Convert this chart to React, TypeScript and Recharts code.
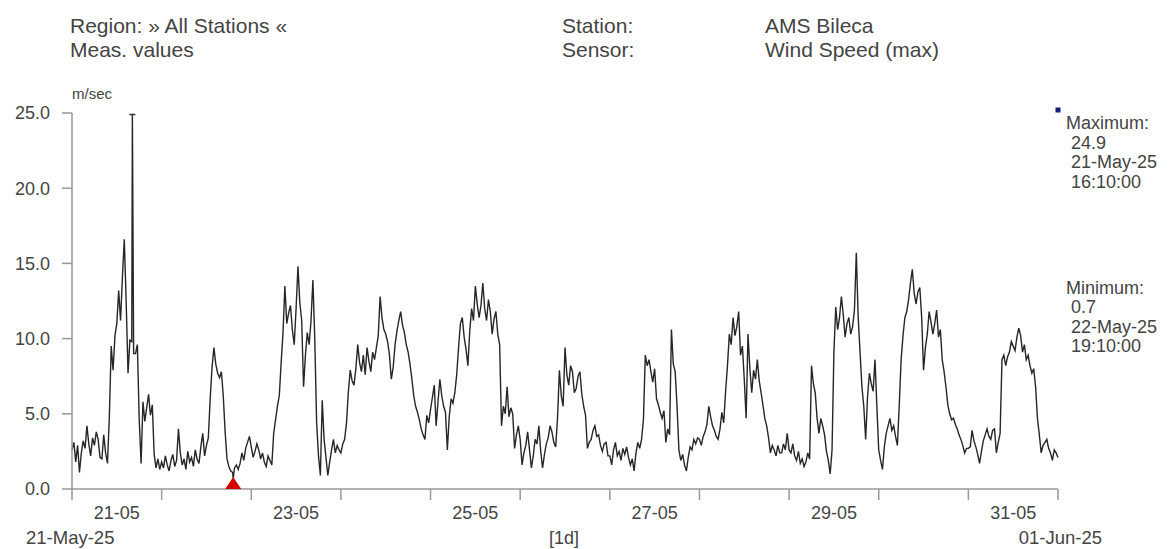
import React from 'react';
import { LineChart, Line, XAxis, YAxis, ReferenceDot } from 'recharts';

// Wind speed (max), 30-minute readings per day, m/sec
const day21 = [2.6,3.1, 1.8,2.9, 1.1,2.4, 3.2,2.7, 4.2,3.0, 2.2,3.4, 2.9,3.8, 3.3,2.1, 2.0,3.6, 2.4,1.7, 4.8,9.5, 7.9,10.2, 11.0,13.2, 11.2,14.1, 16.6,12.5, 7.7,9.9, 9.8,9.0, 9.0,9.6, 4.6,1.7, 5.8,4.5, 5.4,6.3, 4.9,5.6, 2.3,1.4, 2.0,1.3];
const day22 = [1.8,1.4, 2.2,1.6, 1.2,1.9, 2.3,1.5, 1.9,4.0, 2.4,1.6, 2.0,1.3, 2.5,1.8, 2.1,1.5, 2.6,2.0, 1.7,2.8, 3.7,2.2, 2.9,3.4, 6.0,8.1, 9.4,8.3, 7.7,7.4, 7.8,6.2, 3.8,2.0, 1.5,1.2, 1.1,1.4, 1.6,1.3, 1.7,2.4, 1.9,2.7, 3.1,3.5];
const day23 = [2.8,2.1, 2.5,3.0, 2.6,2.0, 2.4,1.8, 1.5,2.2, 1.9,1.6, 3.7,4.6, 5.5,6.2, 8.4,10.4, 13.5,11.0, 11.7,12.2, 10.6,9.6, 12.0,14.8, 12.4,11.2, 6.8,8.9, 10.4,9.6, 11.2,13.9, 10.0,4.4, 2.2,0.9, 5.9,3.3, 2.1,0.9, 1.8,2.6, 3.3,2.4, 2.9,2.6];
const day24 = [2.4,3.0, 3.3,4.4, 6.5,7.9, 7.2,6.9, 8.0,9.6, 8.4,7.8, 8.9,7.6, 9.4,8.5, 7.8,9.1, 8.6,9.4, 10.2,12.8, 11.4,10.6, 10.3,9.8, 8.9,7.3, 8.1,9.6, 10.5,11.2, 11.8,10.9, 10.4,9.6, 9.1,8.3, 7.3,6.2, 5.5,5.1, 4.6,4.0, 3.6,3.3, 4.9,4.4];
const day25 = [5.3,6.1, 6.9,4.2, 5.8,7.3, 6.2,5.5, 5.1,2.6, 4.8,6.0, 5.7,6.4, 7.6,9.4, 11.0,11.4, 10.1,9.3, 8.2,10.5, 12.0,11.2, 13.5,12.3, 11.4,12.2, 13.7,12.0, 11.2,12.6, 11.8,10.3, 11.3,11.8, 10.3,9.6, 4.2,5.5, 5.0,6.8, 4.8,5.4, 5.0,2.7, 3.6,4.2];
const day26 = [3.3,1.6, 2.4,2.9, 3.8,2.6, 1.4,2.2, 3.3,3.0, 4.2,2.5, 1.4,2.3, 3.0,3.4, 4.2,3.8, 3.1,2.8, 4.7,7.9, 6.2,5.5, 9.4,7.6, 6.9,8.2, 7.8,6.4, 6.7,7.5, 7.8,6.3, 5.5,4.9, 2.7,3.1, 3.3,3.9, 4.2,3.5, 3.6,2.9, 2.5,3.0, 3.1,2.2];
const day27 = [2.2,1.6, 2.6,3.1, 2.2,2.5, 1.9,2.7, 2.3,2.8, 2.1,1.6, 2.0,1.2, 2.4,3.1, 2.7,3.3, 4.6,8.9, 8.2,8.6, 7.8,7.1, 8.0,6.0, 5.6,5.1, 4.7,5.2, 3.1,4.0, 3.6,10.6, 8.3,7.8, 5.5,2.6, 1.9,2.3, 1.6,1.2, 2.1,2.8, 2.6,3.3, 3.0,3.4];
const day28 = [3.3,2.9, 3.5,3.8, 4.3,5.5, 4.8,4.2, 3.9,3.5, 3.3,4.0, 5.1,4.4, 6.5,8.2, 10.3,9.6, 11.4,10.2, 10.8,11.8, 8.9,9.5, 7.3,4.7, 10.3,8.0, 6.4,7.9, 7.3,8.6, 7.2,6.4, 5.6,4.7, 4.2,3.4, 2.4,2.9, 2.6,2.2, 2.9,2.4, 2.4,3.0, 2.6,3.7];
const day29 = [2.6,2.4, 3.0,2.2, 1.9,2.5, 1.7,2.0, 1.5,1.8, 2.4,2.0, 8.2,7.0, 6.4,4.7, 3.7,4.7, 4.2,3.6, 2.5,1.9, 1.0,2.6, 9.1,12.1, 10.6,11.4, 12.8,11.6, 10.1,11.0, 11.4,10.3, 10.8,11.9, 15.7,11.4, 9.1,6.8, 5.5,3.3, 6.1,7.7, 7.0,6.5, 8.6,5.5];
const day30 = [2.6,1.9, 1.3,2.8, 3.7,4.2, 4.7,3.9, 4.2,3.5, 2.9,5.6, 8.6,10.2, 11.4,11.8, 12.6,13.7, 14.6,13.0, 12.3,13.1, 13.4,11.4, 7.9,9.4, 10.3,11.8, 11.1,10.3, 11.0,11.9, 10.1,10.6, 8.6,7.8, 6.8,5.6, 5.0,4.6, 4.7,4.3, 4.0,3.6, 3.3,2.9, 2.4,2.7];
const day31 = [2.7,2.8, 3.9,3.2, 2.8,2.3, 1.7,2.5, 3.2,3.6, 4.0,3.5, 3.3,3.9, 4.0,2.4, 3.1,3.7, 8.6,8.9, 8.2,8.8, 9.1,9.8, 9.5,9.2, 10.1,10.7, 10.2,9.1, 9.6,8.6, 8.9,8.2, 7.7,8.0, 6.8,4.7, 3.6,2.4, 2.9,3.1, 3.3,2.7, 2.4,1.9, 2.6,2.4];
const endValue = 2.1;

// extreme events (hours since 21-May-25 00:00)
const maxEvent = { t: 16 + 10 / 60, v: 24.9 };
const minEvent = { t: 24 + 19 + 10 / 60, v: 0.7 };

const yTicks = [0, 5, 10, 15, 20, 25];
const dayTicks = [0, 24, 48, 72, 96, 120, 144, 168, 192, 216, 240, 264];
const labelTicks = [12, 60, 108, 156, 204, 252];
const labelTexts = ['21-05', '23-05', '25-05', '27-05', '29-05', '31-05'];

const headerLeft = ['Region: » All Stations «', 'Meas. values'];
const headerKeys = ['Station:', 'Sensor:'];
const headerVals = ['AMS Bileca', 'Wind Speed (max)'];
const maxLines = ['Maximum:', ' 24.9', ' 21-May-25', ' 16:10:00'];
const minLines = ['Minimum:', ' 0.7', ' 22-May-25', ' 19:10:00'];

const days = [day21, day22, day23, day24, day25, day26, day27, day28, day29, day30, day31];
const data: { t: number; v: number }[] = [];
days.forEach((arr, d) => arr.forEach((v, k) => data.push({ t: d * 24 + k * 0.5, v })));
data.push({ t: 264, v: endValue });
data.push({ t: maxEvent.t, v: maxEvent.v });
data.push({ t: minEvent.t, v: minEvent.v });
data.sort((a, b) => a.t - b.t);

const FONT = '"Liberation Sans", Arial, Helvetica, sans-serif';
const TXT = '#444';
const AX = '#999';

const XTick = (props: any) => {
  const { x, y, payload } = props;
  const v = payload.value;
  if (v % 24 === 0) {
    return <line x1={x} x2={x} y1={y} y2={y + 11} stroke={AX} strokeWidth={1.5} />;
  }
  const idx = labelTicks.indexOf(v);
  return (
    <text x={x} y={y + 30} textAnchor="middle" fill={TXT} fontSize={18} fontFamily={FONT}>
      {labelTexts[idx]}
    </text>
  );
};

const Triangle = (p: any) => (
  <path d={`M${p.cx - 8},${p.cy} L${p.cx + 8},${p.cy} L${p.cx},${p.cy - 12} Z`} fill="#d40000" />
);
const Cap = (p: any) => (
  <line x1={p.cx - 3} x2={p.cx + 3} y1={p.cy} y2={p.cy} stroke="#333" strokeWidth={1.5} />
);
const Square = (p: any) => (
  <rect x={p.cx - 2.5} y={p.cy - 2.5} width={5} height={5} fill="#1a1a80" />
);

const txt = (key: string, left: number, top: number, s: string, extra: any = {}) => (
  <div
    key={key}
    style={{
      position: 'absolute',
      left,
      top,
      fontFamily: FONT,
      fontSize: 18,
      lineHeight: '20px',
      color: TXT,
      whiteSpace: 'pre',
      ...extra,
    }}
  >
    {s}
  </div>
);

const head = { fontSize: 21, lineHeight: '24px' };

export default function App() {
  return (
    <div style={{ position: 'absolute', left: 0, top: 0, width: 1169, height: 549, background: '#fff', overflow: 'hidden' }}>
      <LineChart width={1169} height={549} data={data} margin={{ top: 113, right: 111, bottom: 20, left: 12 }}>
        <XAxis
          dataKey="t"
          type="number"
          domain={[0, 264]}
          ticks={[...dayTicks, ...labelTicks].sort((a, b) => a - b)}
          interval={0}
          tick={<XTick />}
          tickLine={false}
          tickSize={0}
          tickMargin={0}
          height={40}
          stroke={AX}
          strokeWidth={1.5}
        />
        <YAxis
          type="number"
          domain={[0, 25]}
          ticks={yTicks}
          interval={0}
          width={60}
          tickSize={10}
          tickMargin={12}
          stroke={AX}
          strokeWidth={1.5}
          tickFormatter={(v: number) => v.toFixed(1)}
          tick={{ fill: TXT, fontSize: 18, fontFamily: FONT }}
        />
        <Line
          dataKey="v"
          type="linear"
          stroke="#262626"
          strokeWidth={1.4}
          dot={false}
          isAnimationActive={false}
        />
        <ReferenceDot x={maxEvent.t} y={maxEvent.v} shape={<Cap />} ifOverflow="visible" />
        <ReferenceDot x={minEvent.t} y={0} shape={<Triangle />} ifOverflow="visible" />
        <ReferenceDot x={264} y={25.2} shape={<Square />} ifOverflow="visible" />
      </LineChart>
      {txt('h1', 70, 14, headerLeft[0], head)}
      {txt('h2', 70, 38, headerLeft[1], head)}
      {txt('h3', 562, 14, headerKeys[0], head)}
      {txt('h4', 562, 38, headerKeys[1], head)}
      {txt('h5', 765, 14, headerVals[0], head)}
      {txt('h6', 765, 38, headerVals[1], head)}
      {txt('u', 72, 85, 'm/sec', { fontSize: 15, lineHeight: '18px' })}
      {maxLines.map((s, i) => txt('mx' + i, 1066, 113 + i * 19.7, s))}
      {minLines.map((s, i) => txt('mn' + i, 1066, 278 + i * 19.3, s))}
      {txt('d1', 26, 528, '21-May-25', { fontSize: 18.5 })}
      {txt('d2', 549, 528, '[1d]')}
      {txt('d3', 1013, 528, '01-Jun-25', { fontSize: 18.5, width: 89, textAlign: 'right' })}
    </div>
  );
}
